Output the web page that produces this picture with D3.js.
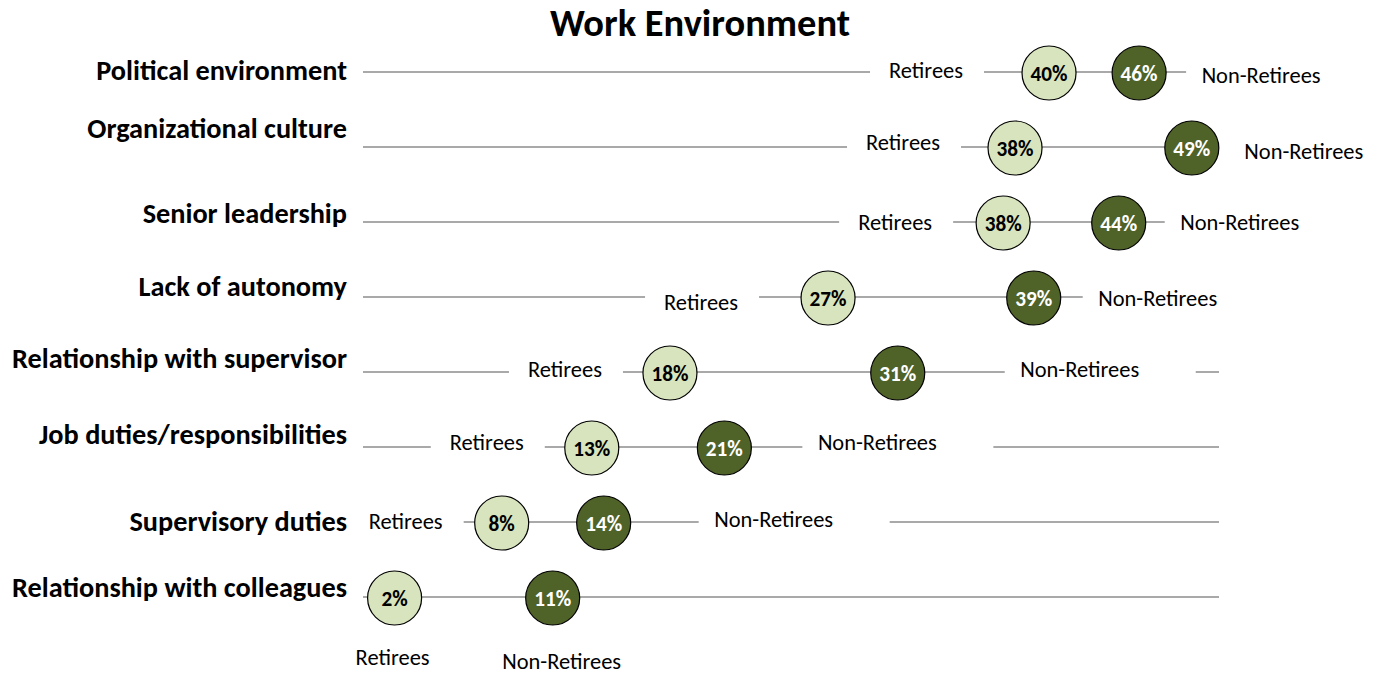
<!DOCTYPE html>
<html>
<head>
<meta charset="utf-8">
<script src="https://cdn.jsdelivr.net/npm/d3@7"></script>
<style>
  html, body { margin: 0; padding: 0; background: #ffffff; }
  svg { display: block; }
  text { font-family: Carlito, Calibri, "Open Sans", sans-serif; }
</style>
</head>
<body>
<svg id="chart" width="1379" height="673"></svg>
<script>
// ---- data ----
const title = "Work Environment";
const categories = [
  "Political environment",
  "Organizational culture",
  "Senior leadership",
  "Lack of autonomy",
  "Relationship with supervisor",
  "Job duties/responsibilities",
  "Supervisory duties",
  "Relationship with colleagues"
];
const seriesNames = ["Retirees", "Non-Retirees"];
const retirees    = [40.3, 38.3, 37.6, 27.3, 18.0, 13.4, 8.1, 1.8];
const nonRetirees = [45.6, 48.7, 44.4, 39.4, 31.4, 21.2, 14.1, 11.1];
const retireeLabels    = ["40%", "38%", "38%", "27%", "18%", "13%", "8%", "2%"];
const nonRetireeLabels = ["46%", "49%", "44%", "39%", "31%", "21%", "14%", "11%"];

// ---- layout (label placement, not data) ----
const retLabelDx = [-123, -112, -108, -127, -105, -105, -96, -2];
const retLabelDy = [-2, -5, 0, 5, -3, -5, -1, 60];
const nonLabelDx = [122, 112, 121, 124, 182, 153, 170, 9];
const nonLabelDy = [3, 4, 0, 1, -3, -5, -3, 64];
const catLabelDy = [8, -9, 1, -1, -4, -3, 9, 0];   // baseline offset from row line

const svg = d3.select("#chart");
const plotLeft = 363, plotRight = 1219;

const x = d3.scaleLinear().domain([0, 50.3]).range([364, 1219]);
const y = d3.scalePoint().domain(categories).range([72, 597]);

// font size fitted so that a sample string has a given width
function fitSize(sample, weight, targetWidth) {
  const t = svg.append("text").attr("font-size", 20).attr("font-weight", weight).text(sample);
  const w = t.node().getComputedTextLength();
  t.remove();
  return w > 0 ? 20 * targetWidth / w : 20;
}
const titleSize = fitSize(title, "bold", 300);
const catSize = fitSize("Relationship with supervisor", "bold", 335);
const serSize = fitSize("Non-Retirees", "normal", 119);
const pctSize = fitSize("40%", "bold", 37);

const rows = categories.map((c, i) => ({
  cat: c, i,
  r: retirees[i], n: nonRetirees[i],
  rl: retireeLabels[i], nl: nonRetireeLabels[i]
}));

// title
svg.append("text")
  .attr("x", 700).attr("y", 36)
  .attr("text-anchor", "middle")
  .attr("font-weight", "bold")
  .attr("font-size", titleSize)
  .attr("fill", "#000")
  .text(title);

// row lines
svg.append("g").selectAll("line").data(rows).join("line")
  .attr("x1", plotLeft).attr("x2", plotRight)
  .attr("y1", d => y(d.cat)).attr("y2", d => y(d.cat))
  .attr("stroke", "#8c8c8c").attr("stroke-width", 1.5);

// label background boxes (white) — rows except last, where labels sit below
const boxG = svg.append("g");
rows.forEach(d => {
  if (d.i === rows.length - 1) return;
  const cy = y(d.cat);
  const rc = x(d.r) + retLabelDx[d.i];
  const rx0 = Math.max(rc - 56, plotLeft - 20);
  boxG.append("rect")
    .attr("x", rx0).attr("y", cy - 15)
    .attr("width", rc + 58 - rx0).attr("height", 30)
    .attr("fill", "#fff");
  const nc = x(d.n) + nonLabelDx[d.i];
  boxG.append("rect")
    .attr("x", nc - 75).attr("y", cy - 15)
    .attr("width", 191).attr("height", 30)
    .attr("fill", "#fff");
});

// category labels
svg.append("g").selectAll("text").data(rows).join("text")
  .attr("x", 347)
  .attr("y", d => y(d.cat) + catLabelDy[d.i])
  .attr("text-anchor", "end")
  .attr("font-weight", "bold")
  .attr("font-size", catSize)
  .attr("fill", "#000")
  .text(d => d.cat);

// series labels
const lblG = svg.append("g").attr("font-size", serSize).attr("fill", "#000");
lblG.selectAll("text.ret").data(rows).join("text")
  .attr("class", "ret")
  .attr("x", d => x(d.r) + retLabelDx[d.i])
  .attr("y", d => y(d.cat) + retLabelDy[d.i])
  .attr("text-anchor", "middle")
  .attr("dominant-baseline", "central")
  .text(seriesNames[0]);
lblG.selectAll("text.non").data(rows).join("text")
  .attr("class", "non")
  .attr("x", d => x(d.n) + nonLabelDx[d.i])
  .attr("y", d => y(d.cat) + nonLabelDy[d.i])
  .attr("text-anchor", "middle")
  .attr("dominant-baseline", "central")
  .text(seriesNames[1]);

// circles
const R = 27;
const dotG = svg.append("g");
dotG.selectAll("circle.ret").data(rows).join("circle")
  .attr("class", "ret")
  .attr("cx", d => x(d.r)).attr("cy", d => y(d.cat) + 1)
  .attr("r", R)
  .attr("fill", "#d7e4bd").attr("stroke", "#000").attr("stroke-width", 1.2);
dotG.selectAll("circle.non").data(rows).join("circle")
  .attr("class", "non")
  .attr("cx", d => x(d.n)).attr("cy", d => y(d.cat) + 1)
  .attr("r", R)
  .attr("fill", "#4f6228").attr("stroke", "#000").attr("stroke-width", 1.2);

// value labels
dotG.selectAll("text.rv").data(rows).join("text")
  .attr("class", "rv")
  .attr("x", d => x(d.r)).attr("y", d => y(d.cat) + 2)
  .attr("text-anchor", "middle").attr("dominant-baseline", "central")
  .attr("font-weight", "bold").attr("font-size", pctSize).attr("fill", "#000")
  .text(d => d.rl);
dotG.selectAll("text.nv").data(rows).join("text")
  .attr("class", "nv")
  .attr("x", d => x(d.n)).attr("y", d => y(d.cat) + 2)
  .attr("text-anchor", "middle").attr("dominant-baseline", "central")
  .attr("font-weight", "bold").attr("font-size", pctSize).attr("fill", "#fff")
  .text(d => d.nl);
</script>
</body>
</html>
